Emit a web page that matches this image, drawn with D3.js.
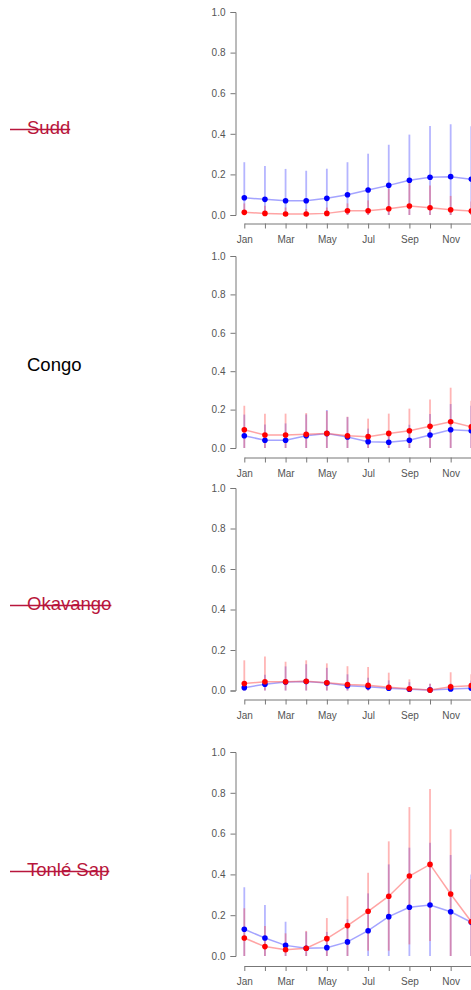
<!DOCTYPE html>
<html><head><meta charset="utf-8">
<script src="https://cdn.jsdelivr.net/npm/d3@7"></script>
<style>body{margin:0;background:#fff;overflow:hidden}svg{display:block}</style>
</head><body>
<svg id="c" width="471" height="990"></svg>
<script>
const months = ["Jan","Feb","Mar","Apr","May","Jun","Jul","Aug","Sep","Oct","Nov","Dec"];
const monthLabels = ["Jan","","Mar","","May","","Jul","","Sep","","Nov",""];
const yTicks = [0, 0.2, 0.4, 0.6, 0.8, 1.0];
const wetlands = ["Sudd","Congo","Okavango","Tonlé Sap"];
const struck = [true,false,true,true];

const suddBlue   = [0.085,0.077,0.070,0.070,0.082,0.100,0.123,0.146,0.171,0.186,0.189,0.176];
const suddBlueHi = [0.260,0.241,0.227,0.218,0.228,0.260,0.302,0.346,0.396,0.438,0.447,0.437];
const suddBlueLo = [0,0,0,0,0,0,0,0,0,0,0,0];
const suddRed    = [0.013,0.008,0.005,0.005,0.008,0.021,0.021,0.031,0.044,0.036,0.026,0.019];
const suddRedHi  = [0.057,0.045,0.037,0.030,0.037,0.057,0.072,0.128,0.164,0.145,0.094,0.066];
const suddRedLo  = [0,0,0,0,0,0,0,0,0,0,0,0];

const congoBlue   = [0.064,0.040,0.040,0.064,0.075,0.057,0.033,0.030,0.040,0.068,0.095,0.090];
const congoBlueHi = [0.174,0.123,0.128,0.175,0.198,0.161,0.101,0.070,0.121,0.177,0.229,0.220];
const congoBlueLo = [0,0,0,0,0,0,0,0,0,0,0,0];
const congoRed    = [0.095,0.068,0.068,0.071,0.076,0.064,0.059,0.076,0.090,0.113,0.137,0.110];
const congoRedHi  = [0.220,0.179,0.179,0.182,0.193,0.163,0.153,0.179,0.205,0.252,0.314,0.246];
const congoRedLo  = [0,0,0,0,0,0,0,0,0,0,0,0];

const okaBlue   = [0.014,0.031,0.042,0.044,0.037,0.024,0.018,0.011,0.006,0.003,0.008,0.011];
const okaBlueHi = [0.035,0.078,0.119,0.130,0.112,0.080,0.063,0.050,0.041,0.033,0.035,0.050];
const okaBlueLo = [0,0,0,0,0,0,0,0,0,0,0,0];
const okaRed    = [0.034,0.043,0.043,0.046,0.038,0.030,0.026,0.016,0.009,0.002,0.018,0.024];
const okaRedHi  = [0.149,0.168,0.142,0.149,0.134,0.120,0.116,0.088,0.055,0.033,0.090,0.080];
const okaRedLo  = [0,0,0,0,0,0,0,0,0,0,0,0];

const tonleBlue   = [0.131,0.088,0.052,0.038,0.041,0.069,0.124,0.193,0.239,0.250,0.217,0.165];
const tonleBlueHi = [0.337,0.250,0.168,0.119,0.118,0.180,0.307,0.449,0.531,0.555,0.495,0.400];
const tonleBlueLo = [0,0,0,0,0,0,0,0,0,0,0,0];
const tonleRed    = [0.088,0.046,0.031,0.038,0.085,0.149,0.219,0.293,0.392,0.449,0.304,0.168];
const tonleRedHi  = [0.234,0.147,0.111,0.123,0.186,0.293,0.408,0.562,0.730,0.819,0.621,0.376];
const tonleRedLo  = [0,0,0,0,0,0,0.026,0.026,0.057,0.074,0,0];

const panelsData = [
  {blue:suddBlue, blueHi:suddBlueHi, blueLo:suddBlueLo, red:suddRed, redHi:suddRedHi, redLo:suddRedLo},
  {blue:congoBlue, blueHi:congoBlueHi, blueLo:congoBlueLo, red:congoRed, redHi:congoRedHi, redLo:congoRedLo},
  {blue:okaBlue, blueHi:okaBlueHi, blueLo:okaBlueLo, red:okaRed, redHi:okaRedHi, redLo:okaRedLo},
  {blue:tonleBlue, blueHi:tonleBlueHi, blueLo:tonleBlueLo, red:tonleRed, redHi:tonleRedHi, redLo:tonleRedLo}
];

// layout (pixel geometry per panel)
const layout = [
  {y0:215, y1:12,  xAxisY:223.5, labelY:128},
  {y0:448, y1:256, xAxisY:457.5, labelY:365},
  {y0:690.5, y1:488, xAxisY:699.5, labelY:604},
  {y0:956, y1:752, xAxisY:966, labelY:870}
];

const svg = d3.select("#c");
const x = d3.scalePoint().domain(months).range([244.3, 471.3]);
const axisColor = "#777", textColor = "#555";
const FONT = "'Liberation Sans', Arial, sans-serif";

layout.forEach((L, i) => {
  const d = panelsData[i];
  const y = d3.scaleLinear().domain([0, 1]).range([L.y0, L.y1]);
  const g = svg.append("g");

  // y axis
  const yAx = g.append("g").attr("transform", "translate(235.5,0)")
    .call(d3.axisLeft(y).tickValues(yTicks).tickFormat(d3.format(".1f")).tickSize(5).tickPadding(5));
  yAx.select(".domain").attr("stroke", axisColor).attr("stroke-width", 1);
  yAx.selectAll(".tick line").attr("stroke", axisColor);
  yAx.selectAll("text").attr("fill", textColor).attr("font-size", "10px").attr("font-family", FONT);

  // x axis
  const xAx = g.append("g").attr("transform", `translate(0,${L.xAxisY})`)
    .call(d3.axisBottom(x).tickFormat((m, k) => monthLabels[k]).tickSizeInner(5).tickSizeOuter(0).tickPadding(7));
  xAx.select(".domain").attr("stroke", axisColor).attr("stroke-width", 1);
  xAx.selectAll(".tick line").attr("stroke", axisColor);
  xAx.selectAll("text").attr("fill", textColor).attr("font-size", "10px").attr("font-family", FONT);

  // error bars
  const series = [
    {v:d.blue, hi:d.blueHi, lo:d.blueLo, line:"rgba(90,90,255,0.55)", bar:"rgba(60,60,255,0.38)", dot:"#0000ff"},
    {v:d.red, hi:d.redHi, lo:d.redLo, line:"rgba(255,90,90,0.55)", bar:"rgba(255,60,60,0.38)", dot:"#ff0000"}
  ];
  series.forEach(s => {
    g.append("g").selectAll("line").data(months).join("line")
      .attr("x1", m => x(m)).attr("x2", m => x(m))
      .attr("y1", (m, k) => y(s.lo[k])).attr("y2", (m, k) => y(s.hi[k]))
      .attr("stroke", s.bar).attr("stroke-width", 1.8);
  });
  series.forEach(s => {
    g.append("path").datum(months)
      .attr("fill", "none").attr("stroke", s.line).attr("stroke-width", 1.5)
      .attr("d", d3.line().x(m => x(m)).y((m, k) => y(s.v[k])));
    g.append("g").selectAll("circle").data(months).join("circle")
      .attr("cx", m => x(m)).attr("cy", (m, k) => y(s.v[k])).attr("r", 2.8)
      .attr("fill", s.dot);
  });

  // left label
  const base = L.labelY + 6;
  const t = svg.append("text").attr("x", 27).attr("y", base)
    .attr("font-family", FONT).attr("font-size", "18.5px")
    .attr("fill", struck[i] ? "#b8163c" : "#000").text(wetlands[i]);
  if (struck[i]) {
    const w = t.node().getComputedTextLength();
    svg.append("line").attr("x1", 10).attr("x2", 27 + w)
      .attr("y1", base - 4.5).attr("y2", base - 4.5)
      .attr("stroke", "#b8163c").attr("stroke-width", 1.4);
  }
});
</script>
</body></html>
